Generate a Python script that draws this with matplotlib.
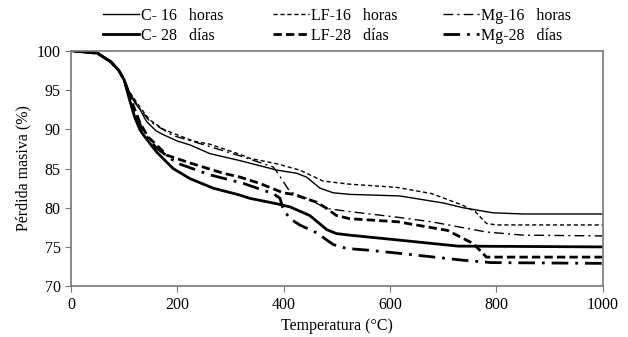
import matplotlib.pyplot as plt

plt.rcParams['font.family'] = ['Liberation Serif', 'DejaVu Serif']
plt.rcParams['font.size'] = 11.5

# curvas TGA (temperatura en °C, pérdida de masa en %)
t_c16 = [5, 50, 75, 90, 100, 110, 120, 130, 142, 160, 174, 200, 224, 261, 318, 387, 424, 443, 468, 493, 524, 618, 700, 737, 793, 850, 1000]
m_c16 = [100, 99.7, 98.6, 97.5, 96.3, 94.6, 93.4, 92.5, 91.0, 89.8, 89.3, 88.5, 88.0, 86.9, 86.0, 84.8, 84.4, 83.9, 82.5, 81.9, 81.7, 81.5, 80.6, 80.0, 79.35, 79.2, 79.2]

t_lf16 = [5, 50, 75, 90, 100, 110, 120, 130, 148, 174, 192, 230, 261, 318, 336, 387, 430, 474, 524, 612, 678, 737, 760, 781, 800, 1000]
m_lf16 = [100, 99.7, 98.6, 97.5, 96.3, 94.8, 93.8, 92.8, 91.2, 90.0, 89.5, 88.5, 88.1, 86.8, 86.3, 85.6, 84.8, 83.4, 83.0, 82.6, 81.8, 80.3, 79.5, 78.0, 77.8, 77.8]

t_mg16 = [5, 50, 75, 90, 100, 110, 120, 130, 148, 192, 261, 318, 380, 387, 412, 443, 481, 524, 612, 678, 781, 850, 1000]
m_mg16 = [100, 99.7, 98.6, 97.5, 96.3, 94.7, 93.6, 92.6, 91.0, 89.2, 87.8, 86.6, 85.2, 84.6, 82.0, 81.2, 79.9, 79.5, 78.8, 78.2, 76.9, 76.5, 76.4]

t_c28 = [5, 50, 75, 90, 100, 110, 120, 130, 136, 161, 192, 224, 267, 318, 336, 387, 412, 449, 481, 499, 524, 612, 728, 1000]
m_c28 = [100, 99.7, 98.6, 97.5, 96.3, 93.8, 91.5, 89.9, 89.3, 87.1, 85.0, 83.7, 82.5, 81.6, 81.2, 80.5, 80.1, 79.0, 77.2, 76.7, 76.5, 75.9, 75.1, 75.0]

t_lf28 = [5, 50, 75, 90, 100, 110, 120, 130, 145, 161, 180, 224, 286, 318, 355, 399, 418, 462, 481, 499, 524, 615, 708, 757, 781, 1000]
m_lf28 = [100, 99.7, 98.6, 97.5, 96.3, 94.4, 92.5, 90.8, 89.0, 88.0, 86.7, 85.7, 84.4, 83.9, 83.1, 81.9, 81.7, 80.7, 79.9, 79.0, 78.6, 78.2, 77.1, 75.4, 73.7, 73.7]

t_mg28 = [5, 50, 75, 90, 100, 110, 120, 130, 145, 161, 199, 261, 324, 380, 393, 399, 412, 430, 462, 493, 518, 556, 615, 737, 790, 1000]
m_mg28 = [100, 99.7, 98.6, 97.5, 96.3, 94.3, 92.3, 90.6, 88.8, 87.6, 85.7, 84.2, 83.1, 81.8, 81.2, 79.8, 78.6, 77.8, 76.8, 75.3, 74.8, 74.6, 74.2, 73.3, 73.0, 72.9]

fig = plt.figure(figsize=(6.28, 3.37), dpi=100)
ax = fig.add_axes([0.113, 0.151, 0.847, 0.698])

h1, = ax.plot(t_c16, m_c16, color='black', lw=1.0, label='C- 16   horas')
h2, = ax.plot(t_lf16, m_lf16, color='black', lw=1.0, ls=(0, (3, 2)), label='LF-16   horas')
h3, = ax.plot(t_mg16, m_mg16, color='black', lw=1.0, ls=(0, (7, 3, 1.5, 3)), label='Mg-16   horas')
h4, = ax.plot(t_c28, m_c28, color='black', lw=2.0, label='C- 28   días')
h5, = ax.plot(t_lf28, m_lf28, color='black', lw=2.0, ls=(0, (3, 1.5)), label='LF-28   días')
h6, = ax.plot(t_mg28, m_mg28, color='black', lw=2.0, ls=(0, (6, 2.5, 1, 2.5)), label='Mg-28   días')

ax.set_xlim(0, 1000)
ax.set_ylim(70, 100)
ax.set_xticks([0, 200, 400, 600, 800, 1000])
ax.set_yticks([70, 75, 80, 85, 90, 95, 100])
ax.tick_params(direction='out', length=4, color='#777777', labelsize=11.5)
for s in ax.spines.values():
    s.set_color('#777777')
    s.set_linewidth(1.2)

ax.set_xlabel('Temperatura (°C)', fontsize=11.5, labelpad=4)
ax.set_ylabel('Pérdida masiva (%)', fontsize=11.5, labelpad=4)

# una leyenda por columna para fijar su posición
for x0, hs in [(0.1635, [h1, h4]), (0.434, [h2, h5]), (0.705, [h3, h6])]:
    fig.legend(handles=hs, ncol=1, frameon=False, loc='upper left',
               bbox_to_anchor=(x0, 0.976), borderpad=0, borderaxespad=0,
               handlelength=2.3, handletextpad=0.1, labelspacing=0.22)

fig.savefig('out.png', dpi=100)
